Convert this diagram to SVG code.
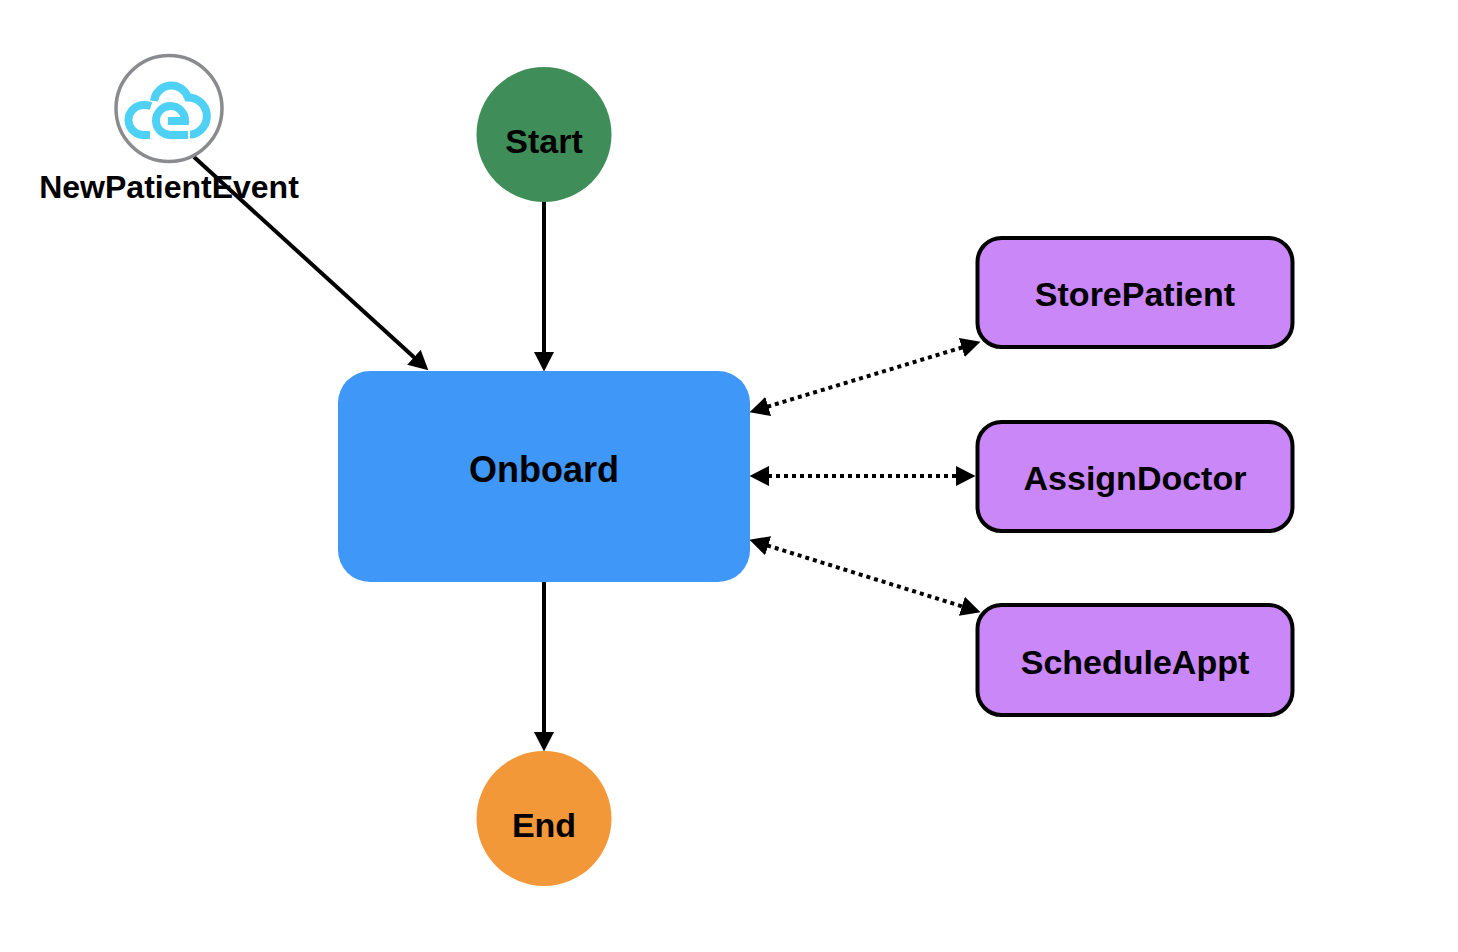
<svg xmlns="http://www.w3.org/2000/svg" width="1458" height="952" viewBox="0 0 1458 952">
<style>
text{font-family:"Liberation Sans",Arial,sans-serif;font-weight:700;fill:#000;text-anchor:middle}
.lbl{font-size:32px}
.mid{font-size:34px}
.big{font-size:36px}
.task{fill:#c987f7;stroke:#000;stroke-width:4}
.c{fill:none;stroke:#000;stroke-width:4}
.d{stroke-dasharray:4 4}
.ic{fill:none;stroke:#4fd0f5;stroke-width:8}
</style>
<defs>
<marker id="a" markerUnits="userSpaceOnUse" markerWidth="21" markerHeight="21" refX="9" refY="10.500" orient="auto-start-reverse"><path d="M0,0.500L19.500,10.500L0,20.500Z" fill="#000"/></marker>
</defs>
<rect width="1458" height="952" fill="#fff"/>
<g id="connectors">
<path class="c" d="M194,157L420.600,363.300" marker-end="url(#a)"/>
<path class="c" d="M544,201V361" marker-end="url(#a)"/>
<path class="c" d="M544,581V741" marker-end="url(#a)"/>
<path class="c d" d="M759.600,409.100L970.400,344.900" marker-start="url(#a)" marker-end="url(#a)"/>
<path class="c d" d="M760,476H965" marker-start="url(#a)" marker-end="url(#a)"/>
<path class="c d" d="M759.500,543L970.500,609" marker-start="url(#a)" marker-end="url(#a)"/>
</g>
<g id="NewPatientEvent">
<circle cx="169" cy="108.500" r="53" fill="#fff" stroke="#8a8b8f" stroke-width="3.500"/>
<path class="ic" d="M151,106Q148,105 144,105A15.500,15 0 0 0 144,135H150"/>
<path class="ic" d="M154,101A17.500,17.500 0 0 1 188,97.500A18.700,18.700 0 0 1 192,134.500H190"/>
<path class="ic" d="M168,121H185A14.500,14.500 0 1 0 171,135H188"/>
<text class="lbl" x="169" y="198">NewPatientEvent</text>
</g>
<g id="Start">
<circle cx="544" cy="134.500" r="67.500" fill="#3f8e5a"/>
<text class="mid" x="544" y="153">Start</text>
</g>
<g id="Onboard">
<rect x="338" y="371" width="412" height="211" rx="32" fill="#3f97f8"/>
<text class="big" x="544" y="482">Onboard</text>
</g>
<g id="End">
<circle cx="544" cy="818.500" r="67.500" fill="#f29838"/>
<text class="mid" x="544" y="837">End</text>
</g>
<g id="StorePatient">
<rect class="task" x="977.500" y="238" width="315" height="109" rx="24"/>
<text class="mid" x="1135" y="306">StorePatient</text>
</g>
<g id="AssignDoctor">
<rect class="task" x="977.500" y="422" width="315" height="109" rx="24"/>
<text class="mid" x="1135" y="490">AssignDoctor</text>
</g>
<g id="ScheduleAppt">
<rect class="task" x="977.500" y="605" width="315" height="110" rx="24"/>
<text class="mid" x="1135" y="674">ScheduleAppt</text>
</g>
</svg>
